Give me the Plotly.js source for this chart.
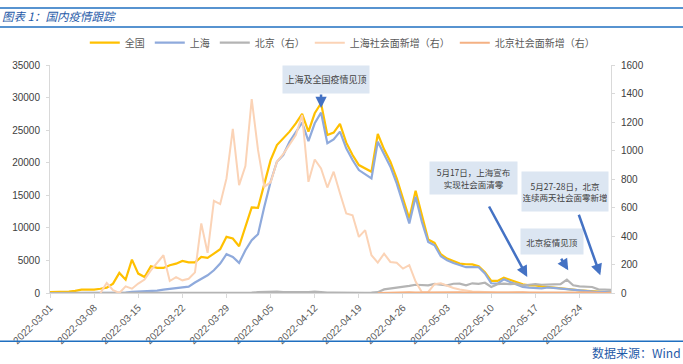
<!DOCTYPE html>
<html>
<head>
<meta charset="utf-8">
<script src="https://cdn.plot.ly/plotly-3.0.1.min.js"></script>
<style>html,body{margin:0;padding:0;background:#fff;}#chart{width:683px;height:364px;}</style>
</head>
<body>
<div id="chart"></div>
<script>
// Dates: daily from 2022-03-01 to 2022-05-29
const startDate = '2022-03-01';
const nDays = 90;

// 全国 (left axis)
const national = [120,130,180,200,330,520,520,520,650,820,
  1440,3080,2050,5130,2980,2460,4100,3850,3850,4260,
  4500,4920,4700,4700,5540,5380,6050,6720,8620,8360,
  7180,10150,13130,13080,16800,20400,22720,23740,24770,26050,
  27490,24770,27590,29130,24260,24620,25950,23080,21180,19640,
  19130,18620,24410,22050,20150,17590,14510,11430,15690,11950,
  8200,7690,5950,5280,4920,4510,4410,4400,4100,3200,
  1850,1850,2360,2050,1690,1330,1180,1180,1030,930,
  930,820,670,520,410,310,260,200,150,100];

// 上海 (left axis)
const shanghai = [2,1,2,3,5,3,3,6,11,15,
  64,75,65,169,202,210,260,370,510,650,
  760,900,980,1610,2210,2720,3490,4520,5950,5540,
  4620,6560,8100,9030,13240,17080,20150,21180,23230,24770,
  26150,23330,26050,27690,23000,23590,24770,22200,20410,18870,
  18260,17590,23230,21180,19390,16820,13740,10670,14770,10920,
  7840,7330,5640,5020,4610,4250,3960,3980,3950,3010,
  1490,1450,2100,1680,1370,940,820,820,720,870,
  780,630,500,480,340,290,220,130,120,90];

// 北京（右）
const beijing = [0,0,1,2,1,0,1,2,1,0,
  3,2,1,2,1,0,1,2,1,0,
  1,0,2,1,3,2,1,0,2,3,
  4,3,2,6,8,12,9,6,5,4,
  3,6,10,5,3,2,1,2,1,0,
  1,2,6,25,30,38,45,50,58,54,
  54,64,58,54,65,66,54,68,64,72,
  42,62,66,62,66,54,58,62,58,60,
  62,62,94,54,47,47,42,26,24,22];

// 上海社会面新增（右）
const shanghaiSocial = [null,null,null,null,null,null,null,null,0,70,
  20,0,47,30,66,94,159,210,265,84,
  112,89,100,145,488,282,647,624,804,1151,
  757,891,1360,1004,746,777,921,975,1038,1109,
  1249,780,937,874,740,851,700,558,546,394,
  441,265,213,276,218,213,171,195,80,5,
  7,62,68,50,35,25,15,10,8,5,
  5,4,3,5,3,2,0,0,0,0,
  0,0,0,0,0,0,0,0,0,0];

// 北京社会面新增（右）
const beijingSocial = [null,null,null,null,null,null,null,null,null,null,
  null,null,null,null,null,null,null,null,null,null,
  null,null,null,null,null,null,null,null,null,null,
  null,null,null,null,null,null,null,null,null,null,
  null,null,null,null,null,null,null,null,null,null,
  null,null,0,2,3,5,4,6,3,4,
  5,6,4,3,5,6,4,3,2,4,
  5,3,4,6,8,5,3,2,4,3,
  2,3,4,2,3,5,2,0,0,1];

const seriesNames = ['全国','上海','北京（右）','上海社会面新增（右）','北京社会面新增（右）'];
const seriesColors = ['#FFC000','#8FAADC','#B4B4B4','#FBD3B6','#F4B183'];

const dates = [];
(function(){
  const d0 = new Date(startDate + 'T00:00:00Z');
  for (let i = 0; i < nDays; i++) {
    const d = new Date(d0.getTime() + i*86400000);
    dates.push(d.toISOString().slice(0,10));
  }
})();

const allSeries = [national, shanghai, beijing, shanghaiSocial, beijingSocial];
const axesFor = ['y','y','y2','y2','y2'];
const widths = [2.2,2.2,2.2,2,2];

const traces = allSeries.map((s,i)=>({
  x: dates, y: s, name: seriesNames[i], type:'scatter', mode:'lines',
  yaxis: axesFor[i], line:{color: seriesColors[i], width: widths[i]},
  connectgaps:false, hoverinfo:'skip'
}));

const font = 'Liberation Sans, Noto Sans CJK SC, sans-serif';
const cjk = 'Noto Sans CJK SC, sans-serif';
const blue = '#1F5AA8';
const boxBg = '#DCE6F2';
const arrowColor = '#4472C4';

function box(x, y, text, w, h, size) {
  return {xref:'paper', yref:'paper', x:x, y:y, xanchor:'center', yanchor:'middle', showarrow:false,
    text:text, bgcolor:boxBg, width:w, height:h, font:{family:cjk, size:size, color:'#404040'}};
}
function arrow(x, y, ax, ay, xref, yref) {
  return {xref:xref||'paper', yref:yref||'paper', x:x, y:y, ax:ax, ay:ay, text:'', showarrow:true,
    arrowhead:2, arrowsize:0.9, arrowwidth:2.5, arrowcolor:arrowColor};
}

const layout = {
  width:683, height:364,
  margin:{l:50, r:72, t:65, b:71, pad:0},
  paper_bgcolor:'#fff', plot_bgcolor:'#fff',
  showlegend:true,
  legend:{orientation:'h', x:0.062, xanchor:'left', y:1.098, yanchor:'middle',
    font:{family:cjk, size:10, color:'#595959'}, bgcolor:'rgba(0,0,0,0)', itemwidth:30, tracegroupgap:0},
  title:{text:'<i>图表 1：国内疫情跟踪</i>', x:0.003, xref:'container', xanchor:'left',
    y:1-17/364, yref:'container', yanchor:'middle', font:{family:cjk, size:11.5, color:blue}},
  xaxis:{type:'date', range:[dates[0], dates[nDays-1]], tick0:dates[0], dtick:7*86400000,
    tickformat:'%Y-%m-%d', tickangle:-45, showgrid:false, zeroline:false,
    showline:true, linecolor:'#D9D9D9', linewidth:1, ticks:'outside', ticklen:4, tickcolor:'#D9D9D9',
    tickfont:{family:font, size:10, color:'#595959'}},
  yaxis:{range:[0,35000], dtick:5000, tickformat:'d', showgrid:false, zeroline:false, showline:true,
    linecolor:'#D9D9D9', ticks:'outside', ticklen:3, tickcolor:'#D9D9D9',
    tickfont:{family:font, size:10, color:'#404040'}, ticklabelstandoff:4},
  yaxis2:{range:[0,1600], dtick:200, tickformat:'d', overlaying:'y', side:'right', showgrid:false, zeroline:false,
    showline:true, linecolor:'#D9D9D9', ticks:'outside', ticklen:3, tickcolor:'#D9D9D9',
    tickfont:{family:font, size:10, color:'#404040'}, ticklabelstandoff:4},
  shapes:[
    {type:'line', xref:'paper', yref:'paper', x0:-0.1, x1:1.15, y0:(292.7-8)/227.7, y1:(292.7-8)/227.7, line:{color:'#1F6FC0', width:1.5}},
    {type:'line', xref:'paper', yref:'paper', x0:-0.1, x1:1.15, y0:(292.7-27)/227.7, y1:(292.7-27)/227.7, line:{color:'#1F6FC0', width:1.5}},
    {type:'line', xref:'paper', yref:'paper', x0:-0.1, x1:1.15, y0:(292.7-341)/227.7, y1:(292.7-341)/227.7, line:{color:'#1F6FC0', width:1.5}}
  ],
  annotations:[
    {xref:'paper', yref:'paper', x:1.128, y:(292.7-352)/227.7, xanchor:'right', yanchor:'middle', showarrow:false,
      text:'数据来源：Wind', font:{family:cjk, size:12, color:blue}},
    box(0.4922, 0.9363, '上海及全国疫情见顶', 84, 25, 9),
    box(0.755, 0.505, '5月17日，上海宣布<br>实现社会面清零', 85, 30, 8.5),
    box(0.9185, 0.4466, '5月27-28日，北京<br>连续两天社会面零新增', 84, 37, 8.5),
    box(0.8948, 0.2249, '北京疫情见顶', 60, 23, 8.5),
    arrow('2022-04-13', 28400, 0, -15, 'x', 'y'),
    arrow(0.8507, 0.0703, -39, -72),
    arrow(0.9809, 0.0777, -22, -62),
    arrow(0.9238, 0.0997, -8, -13)
  ]
};

Plotly.newPlot('chart', traces, layout, {staticPlot:true, displayModeBar:false});
</script>
</body>
</html>
